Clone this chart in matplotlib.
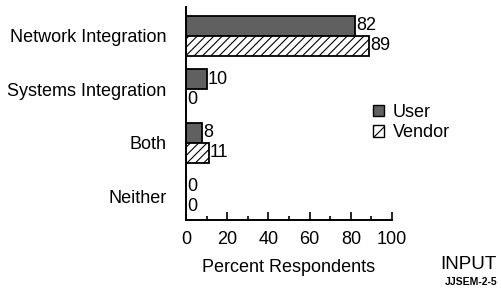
#!/usr/bin/env python3
"""Integration responsibility: user vs vendor survey bars."""

import matplotlib
matplotlib.use("Agg")
import matplotlib.pyplot as plt
import numpy as np
from matplotlib.patches import Patch

categories = ["Network Integration", "Systems Integration", "Both", "Neither"]
user = [82, 10, 8, 0]
vendor = [89, 0, 11, 0]
x_ticks = [0, 20, 40, 60, 80, 100]

plt.rcParams["font.family"] = ["Liberation Sans", "DejaVu Sans"]
plt.rcParams["hatch.linewidth"] = 0.8

FS = 13

fig = plt.figure(figsize=(5.02, 2.95), dpi=100)
ax = fig.add_axes([0.3705, 0.254, 0.4105, 0.722])

pos = np.arange(len(categories))
h = 0.375
ax.barh(pos - h / 2, user, height=h, color="#606060", edgecolor="black", linewidth=1.3)
ax.barh(pos + h / 2, vendor, height=h, color="white", edgecolor="black", hatch="////", linewidth=1.3)

for y, v in zip(pos - h / 2, user):
    ax.text(v + 0.6, y, str(v), va="center", ha="left", fontsize=FS)
for y, v in zip(pos + h / 2, vendor):
    ax.text(v + 0.6, y, str(v), va="center", ha="left", fontsize=FS)

ax.set_xlim(0, 100)
ax.set_ylim(3.45, -0.54)
ax.set_yticks(pos)
ax.set_yticklabels(categories, fontsize=FS)
ax.tick_params(axis="y", length=0, pad=14)
ax.set_xticks(x_ticks)
ax.set_xticks(range(10, 100, 20), minor=True)
ax.tick_params(axis="x", which="major", direction="in", length=6, width=1.2, labelsize=FS, pad=8)
ax.tick_params(axis="x", which="minor", direction="in", length=3, width=1.2)
ax.set_xlabel("Percent Respondents", fontsize=FS, labelpad=8)

for side in ("top", "right"):
    ax.spines[side].set_visible(False)
for side in ("left", "bottom"):
    ax.spines[side].set_linewidth(1.4)

handles = [
    Patch(facecolor="#606060", edgecolor="black", label="User"),
    Patch(facecolor="white", edgecolor="black", hatch="///", label="Vendor"),
]
fig.legend(handles=handles, loc="center left", bbox_to_anchor=(0.71, 0.585), frameon=False,
           fontsize=FS, handlelength=0.6, handleheight=0.6, handletextpad=0.5, labelspacing=0.2)

fig.text(0.99, 0.105, "INPUT", ha="right", va="center", fontsize=13.5)
fig.text(0.99, 0.045, "JJSEM-2-5", ha="right", va="center", fontsize=7.5, fontweight="bold")

fig.savefig("out.png", dpi=100)
